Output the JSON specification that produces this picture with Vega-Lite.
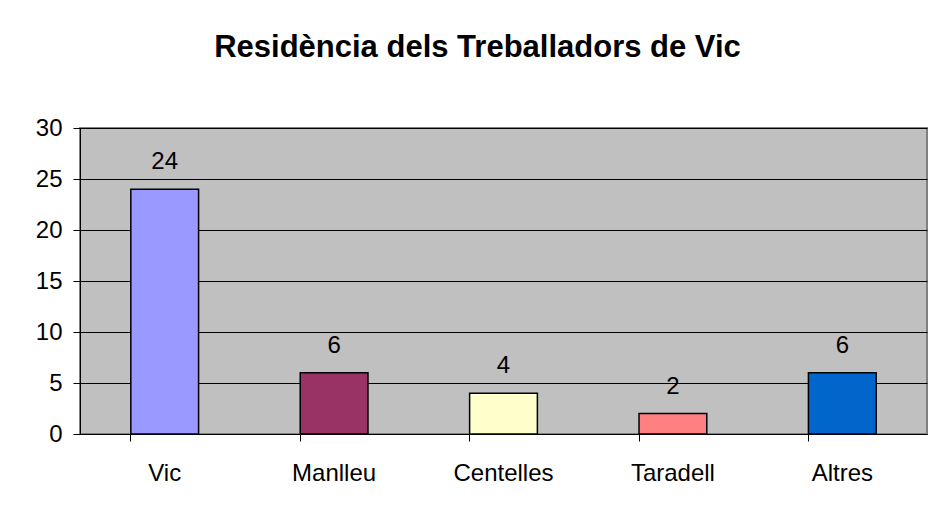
{
  "$schema": "https://vega.github.io/schema/vega-lite/v6.json",
  "width": 847,
  "height": 306,
  "autosize": "none",
  "padding": {"left": 80, "top": 128, "right": 6, "bottom": 75},
  "background": "white",
  "title": {
    "text": "Residència dels Treballadors de Vic",
    "anchor": "middle",
    "frame": "group",
    "dx": -26,
    "offset": 28,
    "baseline": "alphabetic",
    "font": "Liberation Sans",
    "fontSize": 31,
    "fontWeight": "bold",
    "color": "black"
  },
  "data": {
    "values": [
      {"lloc": "Vic", "n": 24},
      {"lloc": "Manlleu", "n": 6},
      {"lloc": "Centelles", "n": 4},
      {"lloc": "Taradell", "n": 2},
      {"lloc": "Altres", "n": 6}
    ]
  },
  "encoding": {
    "x": {
      "field": "lloc",
      "type": "nominal",
      "sort": null,
      "title": null,
      "scale": {"paddingInner": 0.6, "paddingOuter": 0.3},
      "axis": {
        "labelAngle": 0,
        "labelFont": "Liberation Sans",
        "labelFontSize": 24,
        "labelColor": "black",
        "labelPadding": 20,
        "bandPosition": 0,
        "tickSize": 7,
        "tickColor": "black",
        "domainColor": "black",
        "domainWidth": 1,
        "grid": false
      }
    },
    "y": {
      "field": "n",
      "type": "quantitative",
      "title": null,
      "scale": {"domain": [0, 30], "nice": false},
      "axis": {
        "values": [0, 5, 10, 15, 20, 25, 30],
        "labelFont": "Liberation Sans",
        "labelFontSize": 24,
        "labelColor": "black",
        "labelPadding": 11,
        "tickSize": 7,
        "tickColor": "black",
        "domainColor": "black",
        "grid": true,
        "gridColor": "black",
        "gridWidth": 1,
        "gridOpacity": 1
      }
    }
  },
  "layer": [
    {
      "mark": {"type": "bar", "stroke": "black", "strokeWidth": 1.5},
      "encoding": {
        "color": {
          "field": "lloc",
          "type": "nominal",
          "sort": null,
          "legend": null,
          "scale": {
            "domain": ["Vic", "Manlleu", "Centelles", "Taradell", "Altres"],
            "range": ["#9999FF", "#993366", "#FFFFCC", "#FF8080", "#0066CC"]
          }
        }
      }
    },
    {
      "mark": {
        "type": "text",
        "baseline": "alphabetic",
        "dy": -20,
        "font": "Liberation Sans",
        "fontSize": 24,
        "color": "black"
      },
      "encoding": {"text": {"field": "n", "type": "quantitative"}}
    }
  ],
  "config": {
    "view": {"fill": "#C0C0C0", "stroke": "#808080", "strokeWidth": 2}
  }
}
